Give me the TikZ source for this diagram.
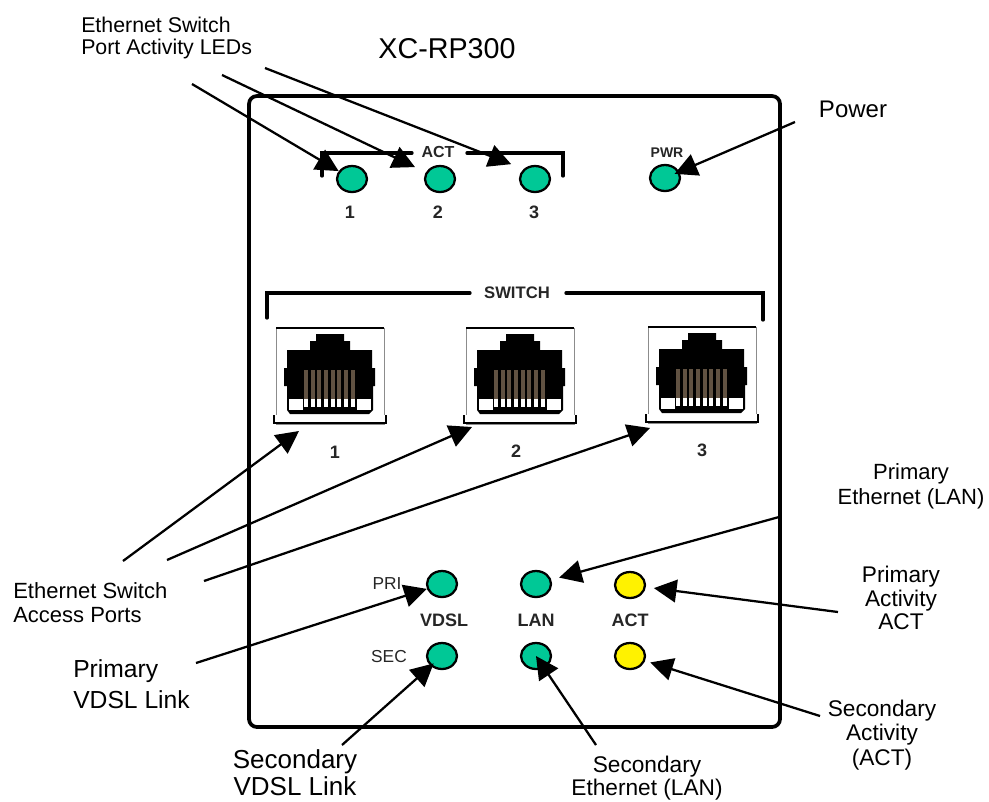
\documentclass[tikz,border=0pt]{standalone}
\usepackage{fontspec}
\setmainfont{Liberation Sans}
\usetikzlibrary{arrows.meta,calc,shapes.geometric}

\begin{document}
\begin{tikzpicture}[
  x=0.75pt, y=-0.75pt,
  arrow/.style={-{Triangle[length=17pt,width=17pt]}, line width=1.7pt},
  callout/.style={inner sep=0pt, align=center},
  panel/.style={font=\bfseries\fontsize{13.5}{15}\selectfont, inner sep=0pt, text=black!85},
  thintext/.style={font=\fontsize{13}{15}\selectfont, inner sep=0pt, text=black!85},
  bracket/.style={line width=2.5pt, line cap=round},
  ledgreen/.style={ellipse, draw=black, line width=1.7pt, fill=ledg, minimum width=22.5pt, minimum height=19.5pt, inner sep=0pt},
  ledyellow/.style={ledgreen, fill=yellow},
  portframe/.style={rectangle, draw=black!45, line width=0.7pt, minimum width=81pt, minimum height=72pt, inner sep=0pt},
]
\definecolor{ledg}{HTML}{00C896}
\useasboundingbox (0,0) rectangle (989,801);

% === FRONT PANEL ===
\draw[line width=2.8pt, rounded corners=6pt] (249,96) rectangle (780,727);

% === ACT LEDS (top) ===
\draw[bracket] (322,176) -- (322,153) -- (412,153);
\draw[bracket] (467,153) -- (563,153) -- (563,176);
\node[panel, font=\bfseries\fontsize{12}{14}\selectfont] (acttop) at (438,152) {ACT};
\node[ledgreen] (led1) at (352,179) {};
\node[ledgreen] (led2) at (440,179) {};
\node[ledgreen] (led3) at (535,179) {};
\node[ledgreen] (ledpwr) at (665,178) {};
\node[panel, font=\bfseries\fontsize{10.5}{12}\selectfont] (pwrtxt) at (667,153) {PWR};
\node[panel, font=\bfseries\fontsize{13.5}{15}\selectfont] (num1) at (350,212) {1};
\node[panel, font=\bfseries\fontsize{13.5}{15}\selectfont] (num2) at (438,212) {2};
\node[panel, font=\bfseries\fontsize{13.5}{15}\selectfont] (num3) at (534,212) {3};

% === SWITCH PORTS ===
\draw[bracket] (267,318) -- (267,293) -- (470,293);
\draw[bracket] (566,293) -- (763,293) -- (763,320);
\node[panel, font=\bfseries\fontsize{12.5}{14}\selectfont] (switchtxt) at (517,293) {SWITCH};

\foreach \n/\px/\py/\lx/\ly in {1/276/328/335/452, 2/466/328/516/451, 3/648/327/702/450} {
  \begin{scope}[shift={(\px,\py)}]
    \node[portframe] (port\n) at (54,48) {};
    \draw[line width=2.2pt] (0,0) -- (108,0);
    \draw[line width=2.2pt, fill=white] (-2,87) -- (-2,95) -- (110,95) -- (110,87);
    % plug outline
    \fill (40,6) -- (68,6) -- (68,13) -- (74,13) -- (74,22) -- (96,22) -- (96,40) -- (99,40)
      -- (99,58) -- (97,58) -- (97,82) -- (93,86) -- (14,86) -- (11,82) -- (11,58) -- (8,58)
      -- (8,40) -- (11,40) -- (11,22) -- (34,22) -- (34,13) -- (40,13) -- cycle;
    \fill[white] (13,71) rectangle (95,82);
    \fill (27,71) rectangle (81,84);
    \foreach \k in {0,...,7} {
      \fill[black!60!brown!60!gray] ({30+6.65*\k-2},42) rectangle ({30+6.65*\k+2},71);
      \fill[white] ({30+6.65*\k-2},71) rectangle ({30+6.65*\k+2},79);
    }
  \end{scope}
  \node[panel, font=\fontsize{13.5}{15}\selectfont\bfseries] (portnum\n) at (\lx,\ly) {\n};
}

% === STATUS LEDS (bottom) ===
\node[ledgreen] (ledvdsl1) at (442,584) {};
\node[ledgreen] (ledlan1) at (536,584) {};
\node[ledyellow] (ledact1) at (630,585) {};
\node[ledgreen] (ledvdsl2) at (442,656) {};
\node[ledgreen] (ledlan2) at (536,656) {};
\node[ledyellow] (ledact2) at (630,656) {};
\node[thintext] (pritxt) at (387,584) {PRI};
\node[thintext] (sectxt) at (389,657) {SEC};
\node[panel] (vdsltxt) at (444,620) {VDSL};
\node[panel] (lantxt) at (536,620) {LAN};
\node[panel] (acttxt) at (630,620) {ACT};

% === CALLOUT TEXT ===
\node[callout, font=\fontsize{16}{17}\selectfont, align=left, anchor=west] (lblleds) at (81,38) {Ethernet Switch\\Port Activity LEDs};
\node[callout, font=\fontsize{21.5}{24}\selectfont] (lbltitle) at (447,49) {XC-RP300};
\node[callout, font=\fontsize{18}{20}\selectfont] (lblpower) at (853,109) {Power};
\node[callout, font=\fontsize{16.5}{18.5}\selectfont] (lblprilan) at (911,486) {Primary\\Ethernet (LAN)};
\node[callout, font=\fontsize{16.5}{18}\selectfont, align=left, anchor=west] (lblports) at (13,603) {Ethernet Switch\\Access Ports};
\node[callout, font=\fontsize{18.5}{23}\selectfont, align=left, anchor=west] (lblprivdsl) at (73,684) {Primary\\VDSL Link};
\node[callout, font=\fontsize{19.5}{20.5}\selectfont] (lblsecvdsl) at (295,773) {Secondary\\VDSL Link};
\node[callout, font=\fontsize{17}{17.5}\selectfont] (lblseclan) at (647,778) {Secondary\\Ethernet (LAN)};
\node[callout, font=\fontsize{17}{17.5}\selectfont] (lblpriact) at (901,598) {Primary\\Activity\\ACT};
\node[callout, font=\fontsize{17}{18.5}\selectfont] (lblsecact) at (882,735) {Secondary\\Activity\\(ACT)};

% === ARROWS ===
\coordinate (tail1) at (192,84);
\coordinate (tail2) at (222,75);
\coordinate (tail3) at (265,68);
\coordinate (tailpwr) at (795,122);
\coordinate (tailport1) at (123,561);
\coordinate (tailport2) at (167,560);
\coordinate (tailport3) at (204,581);
\coordinate (tipport1) at (299,431);
\coordinate (tipport2) at (472,427);
\coordinate (tipport3) at (650,428);
\coordinate (tailprilan) at (779,517);
\coordinate (tailprivdsl) at (196,663);
\coordinate (tailsecvdsl) at (342,745);
\coordinate (tailseclan) at (596,745);
\coordinate (tailpriact) at (838,612);
\coordinate (tailsecact) at (820,716);

\draw[arrow] (tail1) -- (led1);
\draw[arrow, shorten >=9pt] (tail2) -- (led2);
\draw[arrow, shorten >=10pt] (tail3) -- (led3.north west);
\draw[arrow, shorten >=-4pt] (tailpwr) -- (ledpwr);
\draw[arrow] (tailport1) -- (tipport1);
\draw[arrow] (tailport2) -- (tipport2);
\draw[arrow] (tailport3) -- (tipport3);
\draw[arrow, shorten >=6pt] (tailprilan) -- (ledlan1);
\draw[arrow] (tailprivdsl) -- (ledvdsl1);
\draw[arrow, shorten >=-3pt] (tailsecvdsl) -- (ledvdsl2);
\draw[arrow] (tailseclan) -- (ledlan2.center);
\draw[arrow, shorten >=6pt] (tailpriact) -- (ledact1);
\draw[arrow, shorten >=4pt] (tailsecact) -- (ledact2);
\end{tikzpicture}
\end{document}
